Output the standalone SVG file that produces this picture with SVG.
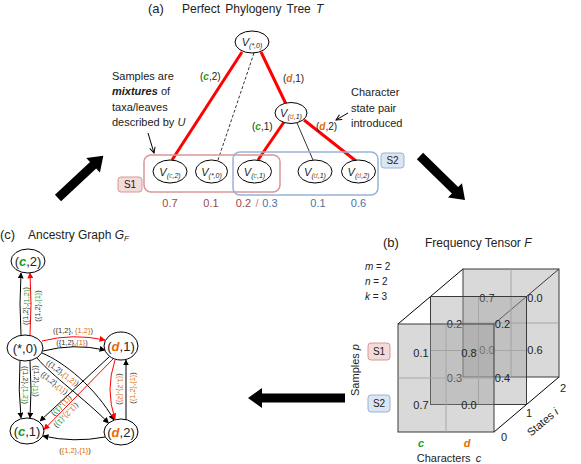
<svg xmlns="http://www.w3.org/2000/svg" width="581" height="464" viewBox="0 0 581 464">
<defs>
<style>
text{font-family:"Liberation Sans",Arial,sans-serif;fill:#222}
.t12{font-size:12px}
.t13{font-size:13px}
.lab{font-size:10px}
.ann{font-size:11px}
.val{font-size:11px;text-anchor:middle}
.el{font-size:7.5px;text-anchor:middle;dominant-baseline:central;fill:#333}
.g{fill:#1e9a1e}
.o{fill:#e36c09}
.bi{font-weight:bold;font-style:italic}
.i{font-style:italic}
.node{fill:#fff;stroke:#000;stroke-width:1}
.vt{font-size:11px;font-style:italic;text-anchor:middle}
.red{stroke:#ff0000;stroke-width:3;fill:none}
.thin{stroke:#000;stroke-width:0.8;fill:none}
.cb{stroke:#000;stroke-width:1;fill:none;marker-end:url(#mb)}
.cr{stroke:#ff0000;stroke-width:1;fill:none;marker-end:url(#mr)}
.s1v{fill:#a04545}
.s2v{fill:#4a72a8}
.panel{fill:#9a9a9a;fill-opacity:0.38;stroke:#3a3a3a;stroke-width:1}
.grid{stroke:#a6a6a6;stroke-width:1}
.edge3{stroke:#000;stroke-width:1}
.s1box{fill:#f2dcdb;stroke:#d99694;stroke-width:1}
.s2box{fill:#dce6f2;stroke:#95b3d7;stroke-width:1}
.nl{font-size:13px;text-anchor:middle}
</style>
<marker id="mb" viewBox="0 0 10 10" refX="9" refY="5" markerWidth="6" markerHeight="6" markerUnits="userSpaceOnUse" orient="auto"><path d="M0,0L10,5L0,10z" fill="#000"/></marker>
<marker id="mr" viewBox="0 0 10 10" refX="9" refY="5" markerWidth="6" markerHeight="6" markerUnits="userSpaceOnUse" orient="auto"><path d="M0,0L10,5L0,10z" fill="#ff0000"/></marker>
<marker id="mo" viewBox="0 0 10 10" refX="9" refY="5" markerWidth="7" markerHeight="7" markerUnits="userSpaceOnUse" orient="auto"><path d="M1,1L9,5L1,9" fill="none" stroke="#000" stroke-width="1.4"/></marker>
</defs>
<rect width="581" height="464" fill="#fff"/>

<!-- Panel (a) -->
<g id="title-a">
<text x="148" y="13" class="t13">(a)</text>
<text x="182" y="13" class="t12" word-spacing="2">Perfect Phylogeny Tree <tspan class="i">T</tspan></text>
</g>

<g id="tree-edges">
<line class="red" x1="242" y1="52" x2="172" y2="160"/>
<line class="red" x1="261" y1="52" x2="286" y2="104"/>
<line class="thin" stroke-dasharray="3,2" x1="254" y1="53" x2="218" y2="160"/>
<line class="red" x1="284" y1="122" x2="258" y2="160"/>
<line class="thin" x1="297" y1="123" x2="313" y2="160"/>
<line class="red" x1="304" y1="120" x2="356" y2="161"/>
<text x="200" y="80" class="lab">(<tspan class="g bi">c</tspan>,2)</text>
<text x="283" y="82" class="lab">(<tspan class="o bi">d</tspan>,1)</text>
<text x="252" y="130" class="lab">(<tspan class="g bi">c</tspan>,1)</text>
<text x="316" y="130" class="lab">(<tspan class="o bi">d</tspan>,2)</text>
</g>

<g id="node-root">
<ellipse class="node" cx="252" cy="42" rx="17" ry="11"/>
<text x="252" y="46" class="vt">V<tspan font-size="7" dy="2">(*,0)</tspan></text>
</g>
<g id="node-d1">
<ellipse class="node" cx="291" cy="113" rx="16" ry="10.5"/>
<text x="291" y="117" class="vt">V<tspan font-size="7" dy="2">(<tspan class="o">d</tspan>,1)</tspan></text>
</g>
<g id="leaf-c2">
<ellipse class="node" cx="170" cy="171.5" rx="17" ry="11.5"/>
<text x="170" y="175.5" class="vt">V<tspan font-size="7" dy="2">(<tspan class="g">c</tspan>,2)</tspan></text>
</g>
<g id="leaf-star0">
<ellipse class="node" cx="211.5" cy="171.5" rx="16" ry="11.5"/>
<text x="211.5" y="175.5" class="vt">V<tspan font-size="7" dy="2">(*,0)</tspan></text>
</g>
<g id="leaf-c1">
<ellipse class="node" cx="254.5" cy="171.5" rx="17" ry="11.5"/>
<text x="254.5" y="175.5" class="vt">V<tspan font-size="7" dy="2">(<tspan class="g">c</tspan>,1)</tspan></text>
</g>
<g id="leaf-d1">
<ellipse class="node" cx="315" cy="171.5" rx="17" ry="11.5"/>
<text x="315" y="175.5" class="vt">V<tspan font-size="7" dy="2">(<tspan class="o">d</tspan>,1)</tspan></text>
</g>
<g id="leaf-d2">
<ellipse class="node" cx="358.5" cy="171.5" rx="17" ry="11.5"/>
<text x="358.5" y="175.5" class="vt">V<tspan font-size="7" dy="2">(<tspan class="o">d</tspan>,2)</tspan></text>
</g>

<g id="sample-boxes">
<rect x="144" y="155" width="136" height="37" rx="7" fill="none" stroke="#d99694" stroke-width="1.5"/>
<rect x="233" y="152" width="145" height="43" rx="7" fill="none" stroke="#95b3d7" stroke-width="1.5"/>
<rect x="118" y="177" width="24" height="15" rx="3" class="s1box"/>
<text x="130" y="188" class="lab" text-anchor="middle">S1</text>
<rect x="381" y="153" width="23" height="15" rx="3" class="s2box"/>
<text x="392.5" y="164" class="lab" text-anchor="middle">S2</text>
</g>

<g id="leaf-values">
<text x="170" y="207" class="val s1v">0.7</text>
<text x="211" y="207" class="val s1v">0.1</text>
<text x="243.5" y="207" class="val s1v">0.2</text>
<text x="257" y="207" class="val" style="fill:#d08080">/</text>
<text x="270" y="207" class="val s2v">0.3</text>
<text x="318" y="207" class="val s2v">0.1</text>
<text x="358.5" y="207" class="val s2v">0.6</text>
</g>

<g id="annotation-samples">
<text x="112" y="80" class="ann">Samples are</text>
<text x="112" y="95" class="ann"><tspan class="bi">mixtures</tspan> of</text>
<text x="112" y="111" class="ann">taxa/leaves</text>
<text x="112" y="126" class="ann">described by <tspan class="i">U</tspan></text>
<line x1="148" y1="133" x2="154" y2="153" stroke="#000" stroke-width="1" marker-end="url(#mo)"/>
</g>
<g id="annotation-character">
<text x="351" y="96" class="ann">Character</text>
<text x="351" y="112" class="ann">state pair</text>
<text x="351" y="127" class="ann">introduced</text>
<line x1="348" y1="113" x2="336" y2="120" stroke="#000" stroke-width="1" marker-end="url(#mo)"/>
</g>

<!-- Big arrows -->
<g id="big-arrows" fill="#000">
<polygon transform="translate(58,198) rotate(-43)" points="0,-4.5 48,-4.5 48,-10 62,0 48,10 48,4.5 0,4.5"/>
<polygon transform="translate(420,156) rotate(44.4)" points="0,-4.5 49,-4.5 49,-10 63,0 49,10 49,4.5 0,4.5"/>
<polygon transform="translate(345,398) rotate(180)" points="0,-4.5 83,-4.5 83,-10 97,0 83,10 83,4.5 0,4.5"/>
</g>

<!-- Panel (c) -->
<g id="title-c">
<text x="0" y="239" class="t13">(c)</text>
<text x="28" y="239" class="t12">Ancestry Graph <tspan class="i">G</tspan><tspan class="i" font-size="8" dy="2">F</tspan></text>
</g>

<g id="graph-edges">
<path class="cb" d="M21,335 Q19,304 21,273"/>
<path class="cr" d="M30,335 Q32,304 30,273"/>
<path class="cr" d="M42,341 Q73,333 105,340"/>
<path class="cb" d="M43,351 Q74,343 105,350"/>
<path class="cb" d="M42,353 C64,362 96,388 114,420"/>
<path class="cb" d="M37,358 C52,376 84,398 108.5,423"/>
<path class="cb" d="M20,361 Q18,390 21,418"/>
<path class="cb" d="M30,361 Q32,390 30,418"/>
<path class="cb" d="M109,357 L40,421"/>
<path class="cr" d="M113,359 L44,429.5"/>
<path class="cr" d="M115,360 Q105,390 115,419"/>
<path class="cb" d="M126,420 L126,360"/>
<path class="cb" d="M105,437 Q74,443 43,436"/>

<text class="el" transform="translate(25.5,306) rotate(-90)">({1,2},<tspan class="g">{1,2}</tspan>)</text>
<text class="el" transform="translate(37,306) rotate(-90)">({1,2},<tspan class="g">{1}</tspan>)</text>
<text class="el" transform="translate(73,330)">({1,2}, <tspan class="o">{1,2}</tspan>)</text>
<text class="el" transform="translate(72,342)">({1,2},<tspan class="o">{1}</tspan>)</text>
<text class="el" transform="translate(62.7,373) rotate(36)">({1,2},<tspan class="o">{1,2}</tspan>)</text>
<text class="el" transform="translate(54.4,383) rotate(38)">({1,2},<tspan class="o">{1}</tspan>)</text>
<text class="el" transform="translate(25.5,385) rotate(90)">({1,2},<tspan class="g">{1,2}</tspan>)</text>
<text class="el" transform="translate(36,381) rotate(90)">({1,2},<tspan class="g">{1}</tspan>)</text>
<text class="el" transform="translate(62,406) rotate(134)">(<tspan class="o">{1}</tspan>,<tspan class="g">{1}</tspan>)</text>
<text class="el" transform="translate(66.5,415.6) rotate(134)">(<tspan class="o">{1,2}</tspan>,<tspan class="g">{1}</tspan>)</text>
<text class="el" transform="translate(120.5,389) rotate(90)">(<tspan class="o">{1,2}</tspan>,<tspan class="o">{2}</tspan>)</text>
<text class="el" transform="translate(132,388) rotate(-90)">(<tspan class="o">{1,2}</tspan>,<tspan class="o">{1}</tspan>)</text>
<text class="el" transform="translate(75,450)">(<tspan class="o">{1,2}</tspan>,<tspan class="o">{1}</tspan>)</text>
</g>

<g id="gnode-c2">
<ellipse class="node" cx="28" cy="261" rx="17" ry="12"/>
<text x="28" y="265.5" class="nl">(<tspan class="g bi">c</tspan>,2)</text>
</g>
<g id="gnode-star0">
<ellipse class="node" cx="25" cy="348" rx="18" ry="13"/>
<text x="25" y="352.5" class="nl">(*,0)</text>
</g>
<g id="gnode-d1">
<ellipse class="node" cx="121" cy="346" rx="17" ry="14"/>
<text x="121" y="350.5" class="nl">(<tspan class="o bi">d</tspan>,1)</text>
</g>
<g id="gnode-c1">
<ellipse class="node" cx="27" cy="431" rx="17" ry="13"/>
<text x="27" y="435.5" class="nl">(<tspan class="g bi">c</tspan>,1)</text>
</g>
<g id="gnode-d2">
<ellipse class="node" cx="121" cy="432" rx="17" ry="13"/>
<text x="121" y="436.5" class="nl">(<tspan class="o bi">d</tspan>,2)</text>
</g>

<!-- Panel (b) -->
<g id="title-b">
<text x="383" y="247" class="t13">(b)</text>
<text x="425" y="247" class="t12">Frequency Tensor <tspan class="i">F</tspan></text>
<text x="365" y="270" class="lab"><tspan class="i">m</tspan> = 2</text>
<text x="365" y="285" class="lab"><tspan class="i">n</tspan> = 2</text>
<text x="365" y="300" class="lab"><tspan class="i">k</tspan> = 3</text>
</g>

<g id="tensor">
<line class="edge3" x1="398" y1="324" x2="463" y2="269"/>
<line class="edge3" x1="494" y1="324" x2="559" y2="269"/>
<line class="edge3" x1="494" y1="432" x2="559" y2="377"/>
<g id="slice-2">
<rect class="panel" x="463" y="269" width="96" height="108"/>
<line class="grid" x1="511" y1="269.5" x2="511" y2="376.5"/>
<line class="grid" x1="463.5" y1="323" x2="558.5" y2="323"/>
<text x="487" y="302" class="val">0.7</text>
<text x="535" y="302" class="val">0.0</text>
<text x="487" y="354" class="val">0.0</text>
<text x="535" y="354" class="val">0.6</text>
</g>
<g id="slice-1">
<rect class="panel" x="430.5" y="296.5" width="96" height="108"/>
<line class="grid" x1="478.5" y1="297" x2="478.5" y2="404"/>
<line class="grid" x1="431" y1="350.5" x2="526" y2="350.5"/>
<text x="454.5" y="328" class="val">0.2</text>
<text x="502.5" y="328" class="val">0.2</text>
<text x="454.5" y="382" class="val">0.3</text>
<text x="502.5" y="382" class="val">0.4</text>
</g>
<g id="slice-0">
<rect class="panel" x="398" y="324" width="96" height="108"/>
<line class="grid" x1="446" y1="324.5" x2="446" y2="431.5"/>
<line class="grid" x1="398.5" y1="378" x2="493.5" y2="378"/>
<text x="421" y="357" class="val">0.1</text>
<text x="469" y="357" class="val">0.8</text>
<text x="421" y="409" class="val">0.7</text>
<text x="469" y="409" class="val">0.0</text>
</g>
</g>

<g id="tensor-axes">
<text class="ann" text-anchor="middle" transform="translate(359,370) rotate(-90)">Samples <tspan class="i">p</tspan></text>
<rect x="368" y="343" width="22" height="17" rx="3" class="s1box"/>
<text x="379" y="355" class="lab" text-anchor="middle">S1</text>
<rect x="368" y="395" width="22" height="17" rx="3" class="s2box"/>
<text x="379" y="407" class="lab" text-anchor="middle">S2</text>
<text x="421" y="447" class="ann g bi" text-anchor="middle">c</text>
<text x="467" y="447" class="ann o bi" text-anchor="middle">d</text>
<text x="449" y="462" class="ann" text-anchor="middle" word-spacing="2">Characters <tspan class="i">c</tspan></text>
<text x="504" y="441" class="ann" text-anchor="middle">0</text>
<text x="529" y="417" class="ann" text-anchor="middle">1</text>
<text x="563" y="392" class="ann" text-anchor="middle">2</text>
<text class="ann" text-anchor="middle" transform="translate(545,425) rotate(-40)">States <tspan class="i">i</tspan></text>
</g>
</svg>
